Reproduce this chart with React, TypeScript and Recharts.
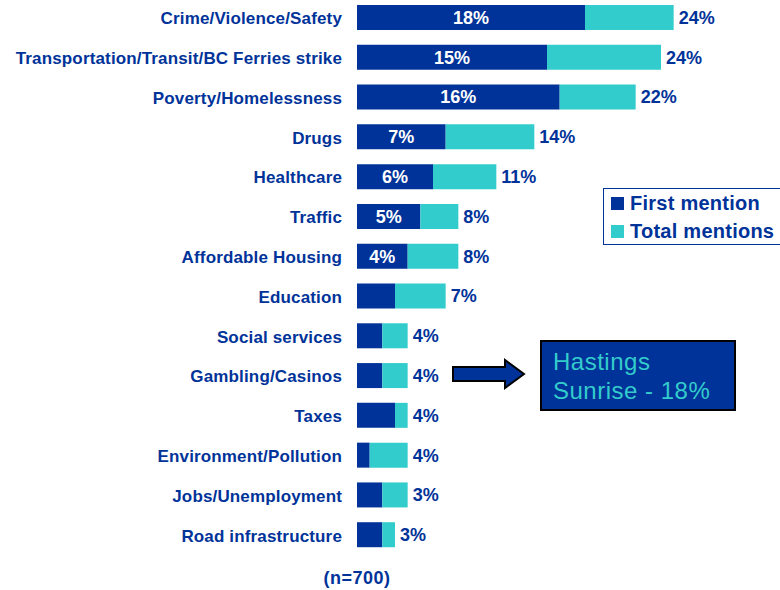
import React from "react";
import { BarChart, Bar, XAxis, YAxis, LabelList, Legend } from "recharts";

const categories = [
  "Crime/Violence/Safety",
  "Transportation/Transit/BC Ferries strike",
  "Poverty/Homelessness",
  "Drugs",
  "Healthcare",
  "Traffic",
  "Affordable Housing",
  "Education",
  "Social services",
  "Gambling/Casinos",
  "Taxes",
  "Environment/Pollution",
  "Jobs/Unemployment",
  "Road infrastructure",
];
const firstMention = [18, 15, 16, 7, 6, 5, 4, 3, 2, 2, 3, 1, 2, 2];
const totalMentions = [25, 24, 22, 14, 11, 8, 8, 7, 4, 4, 4, 4, 4, 3];
const firstLabels = ["18%", "15%", "16%", "7%", "6%", "5%", "4%", "", "", "", "", "", "", ""];
const totalLabels = ["24%", "24%", "22%", "14%", "11%", "8%", "8%", "7%", "4%", "4%", "4%", "4%", "3%", "3%"];

const DARK = "#003399";
const CYAN = "#33CCCC";
const FONT = "'Liberation Sans', Arial, sans-serif";

const data = categories.map((c, i) => ({
  name: c,
  first: firstMention[i],
  rest: totalMentions[i] - firstMention[i],
  firstLabel: firstLabels[i],
  totalLabel: totalLabels[i],
}));

const CategoryTick = (props: any) => {
  const { x, y, payload } = props;
  return (
    <text
      x={x}
      y={y}
      dy="0.38em"
      textAnchor="end"
      fill={DARK}
      fontFamily={FONT}
      fontWeight="bold"
      fontSize={17}
      style={{ letterSpacing: "0.15px" }}
    >
      {payload.value}
    </text>
  );
};

const LegendContent = () => (
  <div
    style={{
      border: `1px solid ${DARK}`,
      background: "#fff",
      width: 200,
      height: 57,
      boxSizing: "border-box",
      fontFamily: FONT,
      fontWeight: "bold",
      fontSize: 20,
      color: DARK,
      letterSpacing: "0.25px",
      paddingLeft: 7,
    }}
  >
    {[
      { label: "First mention", color: DARK },
      { label: "Total mentions", color: CYAN },
    ].map((it) => (
      <div key={it.label} style={{ display: "flex", alignItems: "center", height: 28, whiteSpace: "nowrap" }}>
        <span style={{ display: "inline-block", width: 13, height: 13, background: it.color, marginRight: 6 }} />
        <span>{it.label}</span>
      </div>
    ))}
  </div>
);

export default function App() {
  return (
    <div style={{ position: "absolute", left: 0, top: 0, width: 780, height: 590, overflow: "hidden", background: "#fff" }}>
      <div style={{ position: "absolute", left: 0, top: -2 }}>
        <BarChart
          width={780}
          height={592}
          data={data}
          layout="vertical"
          margin={{ top: 0, right: 43, bottom: 35, left: 0 }}
          barSize={25}
        >
          <XAxis type="number" domain={[0, 30]} hide />
          <YAxis
            type="category"
            dataKey="name"
            width={357}
            axisLine={false}
            tickLine={false}
            tickMargin={9}
            interval={0}
            tick={<CategoryTick />}
          />
          <Legend
            layout="vertical"
            align="center"
            verticalAlign="middle"
            content={<LegendContent />}
            wrapperStyle={{ left: 603, top: 190, width: 200, height: 57 }}
          />
          <Bar dataKey="first" stackId="a" fill={DARK} isAnimationActive={false}>
            <LabelList
              dataKey="firstLabel"
              position="center"
              fill="#fff"
              fontFamily={FONT}
              fontWeight="bold"
              fontSize={18}
            />
          </Bar>
          <Bar dataKey="rest" stackId="a" fill={CYAN} isAnimationActive={false}>
            <LabelList
              dataKey="totalLabel"
              position="right"
              offset={5}
              fill={DARK}
              fontFamily={FONT}
              fontWeight="bold"
              fontSize={18}
            />
          </Bar>
        </BarChart>
      </div>
      <svg width={780} height={590} style={{ position: "absolute", left: 0, top: 0, pointerEvents: "none" }}>
        <polygon
          points="453,367 505,367 505,360 524,374 505,388 505,381 453,381"
          fill={DARK}
          stroke="#000"
          strokeWidth={2}
          strokeLinejoin="miter"
        />
        <rect x={541} y={341} width={194} height={69} fill={DARK} stroke="#000" strokeWidth={2} />
        <text x={553} y={370} fill={CYAN} fontFamily={FONT} fontSize={24} style={{ letterSpacing: "0.5px" }}>
          Hastings
        </text>
        <text x={553} y={399} fill={CYAN} fontFamily={FONT} fontSize={24} style={{ letterSpacing: "0.5px" }}>
          Sunrise - 18%
        </text>
        <text
          x={357}
          y={578}
          dy="0.36em"
          textAnchor="middle"
          fill={DARK}
          fontFamily={FONT}
          fontWeight="bold"
          fontSize={18}
          style={{ letterSpacing: "0.5px" }}
        >
          (n=700)
        </text>
      </svg>
    </div>
  );
}
